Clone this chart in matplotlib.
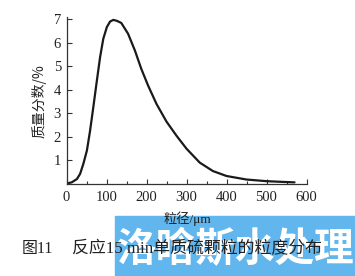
import matplotlib.pyplot as plt
from matplotlib.ticker import MultipleLocator
from matplotlib.patches import Rectangle

# 粒径 (µm) vs 质量分数 (%)
size_um = [0, 13, 26, 34, 42, 51, 59, 67, 76, 84, 92, 101, 109, 117, 126,
           137, 154, 171, 187, 204, 225, 250, 275, 300, 333, 366, 400, 450,
           500, 540, 570]
mass_pct = [0.02, 0.07, 0.21, 0.43, 0.85, 1.42, 2.27, 3.26, 4.40, 5.39, 6.17,
            6.67, 6.90, 6.97, 6.93, 6.84, 6.38, 5.67, 4.89, 4.18, 3.40, 2.65,
            2.05, 1.50, 0.91, 0.55, 0.34, 0.19, 0.12, 0.09, 0.07]
xticks = [0, 100, 200, 300, 400, 500, 600]
yticks = [1, 2, 3, 4, 5, 6, 7]

cjk = ['Noto Sans CJK SC', 'DejaVu Sans']
mixed = ['Liberation Serif', 'Noto Sans CJK SC']
serif = 'Liberation Serif'

W, H = 355, 276
fig = plt.figure(figsize=(W / 100, H / 100), dpi=100)
ax = fig.add_axes([66.5 / W, 1 - 184 / H, 240 / W, 166.7 / H])

ax.plot(size_um, mass_pct, color='#1a1a1a', lw=1.6, solid_capstyle='round',
        solid_joinstyle='round')

ax.set_xlim(0, 600)
ax.set_ylim(0, 7.08)
ax.set_xticks(xticks)
ax.set_yticks(yticks)
ax.xaxis.set_minor_locator(MultipleLocator(50))
ax.spines['top'].set_visible(False)
ax.spines['right'].set_visible(False)
for s in ('left', 'bottom'):
    ax.spines[s].set_linewidth(0.9)
    ax.spines[s].set_color('#333333')
ax.tick_params(direction='in', length=3.5, width=0.8, colors='#333333',
               labelsize=10.5, labelcolor='#222222')
ax.tick_params(which='minor', direction='in', length=2.5, width=0.8,
               colors='#333333')
ax.tick_params(axis='x', pad=5)
ax.tick_params(axis='y', pad=4)
for lab in ax.get_xticklabels() + ax.get_yticklabels():
    lab.set_fontfamily(serif)

ax.set_ylabel('质量分数/%', family=cjk, fontsize=10, color='#222222',
              labelpad=5)

# watermark box
fig.patches.append(Rectangle((115 / W, 0), 240 / W, 60 / H,
                             transform=fig.transFigure, color='#62b6ee',
                             zorder=1))
fig.text(236 / W, 26 / H, '洛晗斯水处理', family=cjk, fontsize=28.5,
         fontweight='bold', color='white', ha='center', va='center',
         zorder=2)

fig.text(187 / W, 1 - 219 / H, '粒径/μm', family=mixed, fontsize=9.5,
         color='#222222', ha='center', va='center', zorder=3)
fig.text(22 / W, 1 - 249 / H, '图11', family=mixed, fontsize=11.5,
         color='#222222', ha='left', va='center', zorder=3)
fig.text(72 / W, 1 - 249 / H, '反应15 min单质硫颗粒的粒度分布',
         family=mixed, fontsize=12.2, color='#222222', ha='left',
         va='center', zorder=3)

fig.savefig('out.png', dpi=100)
